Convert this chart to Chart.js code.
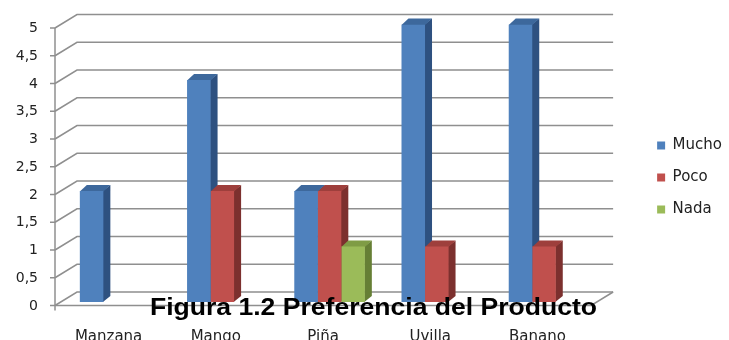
<!DOCTYPE html>
<html>
<head>
<meta charset="utf-8">
<script src="https://cdn.jsdelivr.net/npm/chart.js@4.4.1/dist/chart.umd.min.js"></script>
<style>
  html, body { margin: 0; padding: 0; background: #fff; }
  #wrap { width: 729px; height: 340px; position: relative; }
</style>
</head>
<body>
<div id="wrap"><canvas id="chart"></canvas></div>
<script>
const categories = ['Manzana', 'Mango', 'Piña', 'Uvilla', 'Banano'];
const seriesNames = ['Mucho', 'Poco', 'Nada'];
const mucho = [2, 4, 2, 5, 5];
const poco = [0, 2, 2, 1, 1];
const nada = [0, 0, 1, 0, 0];
const yMin = 0;
const yMax = 5;
const yStep = 0.5;
const titleText = 'Figura 1.2 Preferencia del Producto';

// front / top / side colour of each series
const shades = [
    { front: '#4F81BD', top: '#3D689C', side: '#2E5180' },
    { front: '#C0504D', top: '#9E3F3C', side: '#7C302E' },
    { front: '#9BBB59', top: '#7F9C45', side: '#667F35' }
];

const DEPTH = { dx: 7, dy: -6 };      // extrusion of each bar
const FRONT = { dx: -6.5, dy: 3.5 };  // front edge of the floor, relative to the bar plane
const BACK = { dx: 15.5, dy: -10 };   // back wall, relative to the bar plane
const GRID = '#8f8f8f';

const walls = {
    id: 'walls',
    beforeDatasetsDraw(chart) {
        const { ctx, chartArea: a } = chart;
        const y = chart.scales.y;
        const fx = a.left + FRONT.dx;
        const bx = a.left + BACK.dx;
        const y0 = y.getPixelForValue(yMin);

        ctx.save();
        ctx.strokeStyle = GRID;
        ctx.lineWidth = 1.5;

        y.ticks.forEach(t => {
            const py = y.getPixelForValue(t.value);
            ctx.beginPath();
            ctx.moveTo(fx, py + FRONT.dy);
            ctx.lineTo(bx, py + BACK.dy);
            ctx.lineTo(a.right + BACK.dx, py + BACK.dy);
            ctx.stroke();

            ctx.beginPath();
            ctx.moveTo(fx - 5, py + FRONT.dy);
            ctx.lineTo(fx, py + FRONT.dy);
            ctx.stroke();
        });

        // floor edges
        ctx.beginPath();
        ctx.moveTo(fx, y0 + FRONT.dy);
        ctx.lineTo(a.right + FRONT.dx, y0 + FRONT.dy);
        ctx.lineTo(a.right + BACK.dx, y0 + BACK.dy);
        ctx.stroke();

        // value axis
        ctx.beginPath();
        ctx.moveTo(fx, y.getPixelForValue(yMax) + FRONT.dy);
        ctx.lineTo(fx, y0 + FRONT.dy + 5);
        ctx.stroke();

        // side and top faces, left to right so the next bar covers them
        categories.forEach((c, i) => {
            chart.data.datasets.forEach((ds, d) => {
                if (!ds.data[i]) return;
                const bar = chart.getDatasetMeta(d).data[i];
                const { x, y: top, base, width } = bar.getProps(['x', 'y', 'base', 'width'], true);
                const l = x - width / 2;
                const r = x + width / 2;

                ctx.fillStyle = shades[d].side;
                ctx.beginPath();
                ctx.moveTo(r - 0.5, top);
                ctx.lineTo(r + DEPTH.dx, top + DEPTH.dy);
                ctx.lineTo(r + DEPTH.dx, base + DEPTH.dy);
                ctx.lineTo(r - 0.5, base);
                ctx.closePath();
                ctx.fill();

                ctx.fillStyle = shades[d].top;
                ctx.beginPath();
                ctx.moveTo(l, top + 0.5);
                ctx.lineTo(r, top + 0.5);
                ctx.lineTo(r + DEPTH.dx, top + DEPTH.dy);
                ctx.lineTo(l + DEPTH.dx, top + DEPTH.dy);
                ctx.closePath();
                ctx.fill();
            });
        });
        ctx.restore();
    }
};

const caption = {
    id: 'caption',
    afterDraw(chart) {
        const { ctx } = chart;
        ctx.save();
        ctx.font = 'bold 23.5px "Liberation Sans", Arial, sans-serif';
        ctx.fillStyle = '#000';
        ctx.textAlign = 'center';
        ctx.textBaseline = 'alphabetic';
        ctx.translate(373.5, 315);
        ctx.scale(1.13, 1);
        ctx.fillText(titleText, 0, 0);
        ctx.restore();
    }
};

const datasets = [mucho, poco, nada].map((values, d) => ({
    label: seriesNames[d],
    data: values,
    backgroundColor: shades[d].front,
    borderWidth: 0,
    barPercentage: 1,
    categoryPercentage: 0.658
}));

new Chart(document.getElementById('chart'), {
    type: 'bar',
    data: {
        labels: categories,
        datasets: datasets
    },
    options: {
        responsive: true,
        maintainAspectRatio: false,
        animation: false,
        events: [],
        layout: {
            autoPadding: false,
            padding: { top: 15, left: 0, right: -3, bottom: 0 }
        },
        plugins: {
            tooltip: { enabled: false },
            // empty top box, only keeps the plot below the top margin
            title: {
                display: true,
                text: '',
                padding: 0,
                font: { size: 10, lineHeight: 0.95 }
            },
            legend: {
                position: 'right',
                labels: {
                    boxWidth: 8,
                    boxHeight: 8,
                    padding: 17,
                    color: '#222',
                    font: { family: 'DejaVu Sans', size: 15 }
                }
            }
        },
        scales: {
            x: {
                grid: { display: false, drawTicks: false },
                border: { display: false },
                ticks: {
                    padding: 26.5,
                    labelOffset: -6.5,
                    color: '#222',
                    font: { family: 'DejaVu Sans', size: 15 }
                },
                afterFit: s => { s.height = 38; }
            },
            y: {
                min: yMin,
                max: yMax,
                grid: { display: false, drawTicks: false },
                border: { display: false },
                ticks: {
                    stepSize: yStep,
                    padding: 23.5,
                    labelOffset: 4,
                    color: '#222',
                    // tight line height so the end labels add no inner padding
                    font: { family: 'DejaVu Sans', size: 14, lineHeight: 0.1 },
                    callback: v => String(v).replace('.', ',')
                },
                afterFit: s => { s.width = 61.5; }
            },
            // room for the depth of the back wall before the legend
            depth: {
                type: 'linear',
                position: 'right',
                grid: { display: false, drawTicks: false },
                border: { display: false },
                ticks: { display: false },
                afterFit: s => { s.width = 42.5; }
            }
        }
    },
    plugins: [walls, caption]
});
</script>
</body>
</html>
